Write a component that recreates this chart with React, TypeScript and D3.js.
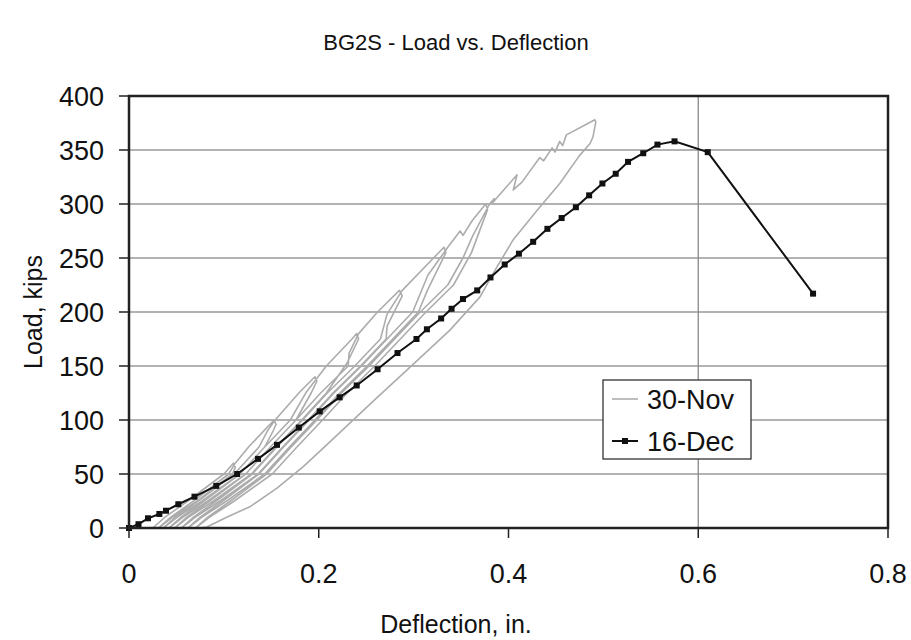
import React from "react";
import * as d3 from "d3";

// ---------- data ----------
const xTicks = [0, 0.2, 0.4, 0.6, 0.8];
const xTickLabels = ["0", "0.2", "0.4", "0.6", "0.8"];
const yTicks = [0, 50, 100, 150, 200, 250, 300, 350, 400];
const xGridTicks = [0.6];
const yGridTicks = [50, 100, 150, 200, 250, 300, 350];

const seriesNames = ["30-Nov", "16-Dec"];

// 16-Dec monotonic test (deflection in., load kips)
const dec16Defl = [
  0, 0.01, 0.02, 0.032, 0.039, 0.052, 0.069, 0.092, 0.114, 0.136, 0.156, 0.179,
  0.201, 0.222, 0.24, 0.262, 0.283, 0.303, 0.314, 0.329, 0.34, 0.352, 0.367,
  0.381, 0.396, 0.411, 0.426, 0.441, 0.456, 0.471, 0.485, 0.499, 0.513, 0.526,
  0.542, 0.557, 0.575, 0.61, 0.721,
];
const dec16Load = [
  0, 3.5, 9, 13, 16, 22, 29, 39, 50, 64, 77, 93, 108, 121, 132, 147, 162, 175,
  184, 194, 203, 212, 220, 232, 244, 254, 265, 277, 287, 297, 308, 319, 328, 339,
  347, 355, 358, 348, 217,
];

// 30-Nov cyclic test: [deflection in., load kips]
const nov30: [number, number][] = [
  // cycle 1
  [0.025, 0], [0.038, 10], [0.062, 25], [0.1, 50], [0.11, 60], [0.112, 56],
  [0.109, 50], [0.072, 25], [0.046, 10], [0.031, 0],
  // cycle 2
  [0.044, 10], [0.068, 25], [0.105, 50], [0.112, 60], [0.126, 75], [0.153, 100], [0.155, 96],
  [0.152, 90], [0.143, 75], [0.117, 50], [0.077, 25], [0.051, 10], [0.036, 0],
  // cycle 3
  [0.049, 10], [0.073, 25], [0.111, 50], [0.137, 75], [0.146, 90], [0.154, 100], [0.179, 125],
  [0.196, 140], [0.198, 136],
  [0.192, 125], [0.176, 100], [0.149, 75], [0.123, 50], [0.083, 25], [0.057, 10], [0.042, 0],
  // cycle 4
  [0.055, 10], [0.079, 25], [0.117, 50], [0.143, 75], [0.17, 100], [0.187, 126], [0.208, 150],
  [0.235, 175], [0.24, 180], [0.242, 175],
  [0.23, 153], [0.208, 125], [0.182, 100], [0.155, 75], [0.129, 50], [0.089, 25], [0.063, 10], [0.048, 0],
  // cycle 5
  [0.061, 10], [0.085, 25], [0.123, 50], [0.149, 75], [0.176, 100], [0.202, 125], [0.231, 150],
  [0.232, 162], [0.242, 180], [0.262, 200], [0.285, 220], [0.288, 215],
  [0.272, 187], [0.271, 175], [0.244, 150], [0.215, 125], [0.189, 100], [0.162, 75], [0.136, 50],
  [0.096, 25], [0.07, 10], [0.055, 0],
  // cycle 6
  [0.068, 10], [0.092, 25], [0.13, 50], [0.156, 75], [0.183, 100], [0.209, 125], [0.238, 150],
  [0.265, 175], [0.272, 198], [0.288, 220], [0.321, 250], [0.332, 260], [0.334, 255],
  [0.315, 221], [0.305, 200], [0.278, 175], [0.251, 150], [0.222, 125], [0.196, 100], [0.169, 75],
  [0.143, 50], [0.103, 25], [0.077, 10], [0.062, 0],
  // cycle 7
  [0.075, 10], [0.099, 25], [0.137, 50], [0.163, 75], [0.19, 100], [0.216, 125], [0.245, 150],
  [0.272, 175], [0.299, 200], [0.315, 234], [0.336, 260], [0.349, 275], [0.352, 271],
  [0.362, 285], [0.376, 300], [0.378, 295],
  [0.361, 255], [0.342, 225], [0.313, 200], [0.286, 175], [0.259, 150], [0.23, 125], [0.204, 100],
  [0.177, 75], [0.151, 50], [0.111, 25], [0.085, 10], [0.07, 0],
  // final cycle
  [0.083, 10], [0.107, 25], [0.145, 50], [0.171, 75], [0.198, 100], [0.224, 125], [0.253, 150],
  [0.28, 175], [0.307, 200], [0.336, 225], [0.352, 250], [0.362, 270], [0.38, 300], [0.385, 305],
  [0.383, 301], [0.394, 312], [0.409, 327], [0.405, 313], [0.414, 320], [0.433, 343], [0.437, 340],
  [0.446, 352], [0.449, 348], [0.454, 358], [0.457, 354], [0.461, 364], [0.491, 378],
  [0.492, 376], [0.489, 362], [0.486, 356], [0.475, 345], [0.454, 319], [0.43, 294], [0.405, 267],
  [0.384, 236], [0.37, 214], [0.338, 183], [0.3, 152], [0.258, 118], [0.212, 80], [0.184, 57],
  [0.156, 37], [0.128, 20], [0.103, 10], [0.082, 1], [0.075, 0],
];

const FONT = "'Liberation Sans', Arial, sans-serif";

export default function App() {
  const W = 911;
  const H = 640;
  const left = 129, right = 888, top = 96, bottom = 528;
  const x = d3.scaleLinear().domain([0, 0.8]).range([left, right]);
  const y = d3.scaleLinear().domain([0, 400]).range([bottom, top]);

  const novLine = d3
    .line<[number, number]>()
    .x((d) => x(d[0]))
    .y((d) => y(d[1]))(nov30) as string;

  const decPts: [number, number][] = dec16Defl.map((v, i) => [v, dec16Load[i]]);
  const decLine = d3
    .line<[number, number]>()
    .x((d) => x(d[0]))
    .y((d) => y(d[1]))(decPts) as string;

  const ms = 6;
  const lgX = 603, lgY = 380, lgW = 148, lgH = 79;
  const row1 = 399, row2 = 441;

  return (
    <svg
      width={W}
      height={H}
      style={{ position: "absolute", left: 0, top: 0, background: "#fff" }}
      fontFamily={FONT}
    >
      <rect x={0} y={0} width={W} height={H} fill="#fff" />
      {/* title */}
      <text x={456} y={50} textAnchor="middle" fontSize={22} fill="#111">
        BG2S - Load vs. Deflection
      </text>

      {/* gridlines */}
      {yGridTicks.map((t) => (
        <line key={"gy" + t} x1={left} x2={right} y1={y(t)} y2={y(t)} stroke="#999" strokeWidth={1.3} />
      ))}
      {xGridTicks.map((t) => (
        <line key={"gx" + t} x1={x(t)} x2={x(t)} y1={top} y2={bottom} stroke="#888" strokeWidth={1.3} />
      ))}

      {/* series */}
      <path d={novLine} fill="none" stroke="#acacac" strokeWidth={1.6} strokeLinejoin="round" />
      <path d={decLine} fill="none" stroke="#111" strokeWidth={2} />
      {decPts.map((d, i) => (
        <rect key={"m" + i} x={x(d[0]) - ms / 2} y={y(d[1]) - ms / 2} width={ms} height={ms} fill="#111" />
      ))}

      {/* frame */}
      <rect x={left} y={top} width={right - left} height={bottom - top} fill="none" stroke="#222" strokeWidth={2.5} />

      {/* y ticks */}
      {yTicks.map((t) => (
        <g key={"yt" + t}>
          <line x1={left - 10} x2={left} y1={y(t)} y2={y(t)} stroke="#222" strokeWidth={1.5} />
          <text x={104} y={y(t)} dy="0.36em" textAnchor="end" fontSize={27} fill="#111">
            {t}
          </text>
        </g>
      ))}
      {/* x ticks */}
      {xTicks.map((t, i) => (
        <g key={"xt" + t}>
          <line x1={x(t)} x2={x(t)} y1={bottom} y2={bottom + 10} stroke="#222" strokeWidth={1.5} />
          <text x={x(t)} y={583} textAnchor="middle" fontSize={27} fill="#111">
            {xTickLabels[i]}
          </text>
        </g>
      ))}

      {/* axis titles */}
      <text x={456} y={633} textAnchor="middle" fontSize={25} fill="#111">
        Deflection, in.
      </text>
      <text
        transform={`translate(42,312) rotate(-90)`}
        textAnchor="middle"
        fontSize={25}
        fill="#111"
      >
        Load, kips
      </text>

      {/* legend */}
      <rect x={lgX} y={lgY} width={lgW} height={lgH} fill="#fff" stroke="#333" strokeWidth={1.3} />
      <line x1={612} x2={638} y1={row1} y2={row1} stroke="#acacac" strokeWidth={1.6} />
      <text x={647} y={row1} dy="0.36em" fontSize={27} fill="#111">
        {seriesNames[0]}
      </text>
      <line x1={612} x2={638} y1={row2} y2={row2} stroke="#111" strokeWidth={2} />
      <rect x={625 - ms / 2} y={row2 - ms / 2} width={ms} height={ms} fill="#111" />
      <text x={647} y={row2} dy="0.36em" fontSize={27} fill="#111">
        {seriesNames[1]}
      </text>
    </svg>
  );
}
